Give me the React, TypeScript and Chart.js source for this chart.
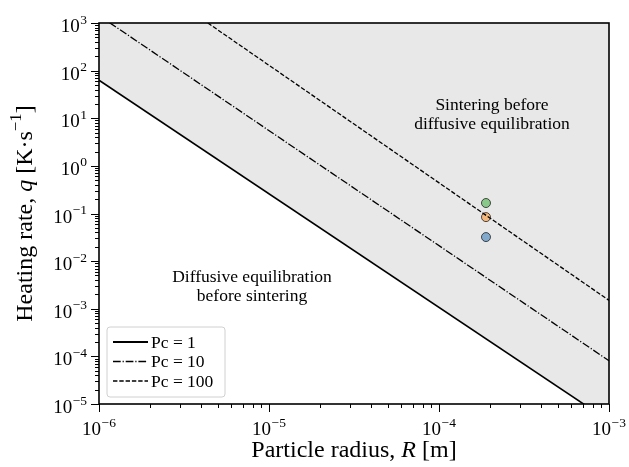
import React, { useEffect, useRef } from 'react';
import { Chart, registerables } from 'chart.js';
Chart.register(...registerables);

// ---- data ----
const RADIUS_ENDS = [1e-6, 1e-3];
const PC1_Q = [63, 4.4e-6];
const PC10_Q = [1435, 8.1e-5];
const PC100_Q = [3.8e4, 1.5e-3];
const POINT_R = [1.89e-4, 1.89e-4, 1.89e-4];
const POINT_Q = [0.166, 0.084, 0.032];
const POINT_COLORS = ['#88c888', '#f4b77c', '#80a9cc'];
const X_DECADES = [-6, -5, -4, -3];
const Y_DECADES = [-5, -4, -3, -2, -1, 0, 1, 2, 3];
const LEGEND_LABELS = ['Pc = 1', 'Pc = 10', 'Pc = 100'];
const X_TITLE = ['Particle radius, ', 'R', ' [m]'];
const Y_TITLE = ['Heating rate, ', 'q', ' [K·s', '−1', ']'];
const ANNOT_UPPER = ['Sintering before', 'diffusive equilibration'];
const ANNOT_LOWER = ['Diffusive equilibration', 'before sintering'];

const FONT = '"Liberation Serif", "DejaVu Serif", serif';
const DASHDOT = [7.7, 1.9, 1.2, 1.9];
const DASHED = [4.4, 1.9];

function drawPow(ctx: CanvasRenderingContext2D, exp: number, x: number, y: number, align: 'center' | 'right') {
  const base = '10';
  const sup = exp < 0 ? '−' + Math.abs(exp) : String(exp);
  ctx.font = `19px ${FONT}`;
  const wb = ctx.measureText(base).width;
  ctx.font = `13.5px ${FONT}`;
  const ws = ctx.measureText(sup).width;
  const total = wb + ws + 0.5;
  let x0 = align === 'center' ? x - total / 2 : x - total;
  ctx.textBaseline = 'alphabetic';
  ctx.textAlign = 'left';
  ctx.font = `19px ${FONT}`;
  ctx.fillText(base, x0, y + 8);
  ctx.font = `13.5px ${FONT}`;
  ctx.fillText(sup, x0 + wb + 0.5, y - 0.5);
}

function drawMixed(ctx: CanvasRenderingContext2D, parts: { t: string; italic?: boolean; sup?: boolean }[], size: number, cx: number, cy: number) {
  const widths: number[] = [];
  let total = 0;
  for (const p of parts) {
    const s = p.sup ? size * 0.7 : size;
    ctx.font = `${p.italic ? 'italic ' : ''}${s}px ${FONT}`;
    const w = ctx.measureText(p.t).width;
    widths.push(w);
    total += w;
  }
  let x = cx - total / 2;
  ctx.textAlign = 'left';
  ctx.textBaseline = 'middle';
  parts.forEach((p, i) => {
    const s = p.sup ? size * 0.7 : size;
    ctx.font = `${p.italic ? 'italic ' : ''}${s}px ${FONT}`;
    ctx.fillText(p.t, x, p.sup ? cy - size * 0.4 : cy);
    x += widths[i];
  });
}

const decorPlugin = {
  id: 'decor',
  afterDraw(chart: any) {
    const { ctx, chartArea: a, scales } = chart;
    const xs = scales.x, ys = scales.y;
    ctx.save();
    ctx.fillStyle = '#000';
    ctx.strokeStyle = '#000';
    // ticks
    ctx.lineWidth = 1;
    for (let e = -6; e <= -3; e++) {
      for (let k = 1; k <= 9; k++) {
        if (e === -3 && k > 1) break;
        const px = Math.round(xs.getPixelForValue(k * Math.pow(10, e))) + 0.5;
        const len = k === 1 ? 8 : 4;
        ctx.beginPath();
        ctx.moveTo(px, a.bottom);
        ctx.lineTo(px, a.bottom + len);
        ctx.stroke();
      }
    }
    for (let e = -5; e <= 3; e++) {
      for (let k = 1; k <= 9; k++) {
        if (e === 3 && k > 1) break;
        const py = Math.round(ys.getPixelForValue(k * Math.pow(10, e))) + 0.5;
        const len = k === 1 ? 8 : 4;
        ctx.beginPath();
        ctx.moveTo(a.left, py);
        ctx.lineTo(a.left - len, py);
        ctx.stroke();
      }
    }
    // frame
    ctx.lineWidth = 1.6;
    ctx.strokeRect(a.left, a.top, a.right - a.left, a.bottom - a.top);
    // tick labels
    X_DECADES.forEach((e) => drawPow(ctx, e, xs.getPixelForValue(Math.pow(10, e)), a.bottom + 23, 'center'));
    Y_DECADES.forEach((e) => drawPow(ctx, e, a.left - 12, ys.getPixelForValue(Math.pow(10, e)) + 1, 'right'));
    // axis titles
    drawMixed(ctx, [{ t: X_TITLE[0] }, { t: X_TITLE[1], italic: true }, { t: X_TITLE[2] }], 24, (a.left + a.right) / 2, 451);
    ctx.save();
    ctx.translate(26, (a.top + a.bottom) / 2);
    ctx.rotate(-Math.PI / 2);
    drawMixed(ctx, [{ t: Y_TITLE[0] }, { t: Y_TITLE[1], italic: true }, { t: Y_TITLE[2] }, { t: Y_TITLE[3], sup: true }, { t: Y_TITLE[4] }], 24, 0, 0);
    ctx.restore();
    // annotations
    ctx.font = `17.5px ${FONT}`;
    ctx.textAlign = 'center';
    ctx.textBaseline = 'middle';
    ctx.fillText(ANNOT_UPPER[0], 492, 105);
    ctx.fillText(ANNOT_UPPER[1], 492, 124);
    ctx.fillText(ANNOT_LOWER[0], 252, 277);
    ctx.fillText(ANNOT_LOWER[1], 252, 296);
    // legend
    const lx = 107, ly = 327, lw = 118, lh = 70;
    ctx.beginPath();
    const r = 3;
    ctx.moveTo(lx + r, ly);
    ctx.arcTo(lx + lw, ly, lx + lw, ly + lh, r);
    ctx.arcTo(lx + lw, ly + lh, lx, ly + lh, r);
    ctx.arcTo(lx, ly + lh, lx, ly, r);
    ctx.arcTo(lx, ly, lx + lw, ly, r);
    ctx.closePath();
    ctx.fillStyle = 'rgba(255,255,255,0.85)';
    ctx.fill();
    ctx.strokeStyle = '#d0d0d0';
    ctx.lineWidth = 1;
    ctx.stroke();
    const dashes = [[], DASHDOT, DASHED];
    const widthsL = [1.8, 1.3, 1.3];
    LEGEND_LABELS.forEach((lab, i) => {
      const y = ly + 15 + i * 19.5;
      ctx.strokeStyle = '#000';
      ctx.lineWidth = widthsL[i];
      ctx.setLineDash(dashes[i]);
      ctx.beginPath();
      ctx.moveTo(lx + 6, y);
      ctx.lineTo(lx + 41, y);
      ctx.stroke();
      ctx.setLineDash([]);
      ctx.fillStyle = '#000';
      ctx.font = `17.5px ${FONT}`;
      ctx.textAlign = 'left';
      ctx.textBaseline = 'middle';
      ctx.fillText(lab, lx + 44, y + 1);
    });
    ctx.restore();
  },
};

export default function App() {
  const ref = useRef<HTMLCanvasElement | null>(null);
  useEffect(() => {
    if (!ref.current) return;
    const mk = (q: number[]) => RADIUS_ENDS.map((x, i) => ({ x, y: q[i] }));
    const chart = new Chart(ref.current, {
      type: 'line',
      data: {
        datasets: [
          {
            label: LEGEND_LABELS[0],
            data: mk(PC1_Q),
            borderColor: '#000',
            borderWidth: 1.6,
            pointRadius: 0,
            fill: 'end',
            backgroundColor: '#e8e8e8',
          },
          {
            label: LEGEND_LABELS[1],
            data: mk(PC10_Q),
            borderColor: '#000',
            borderWidth: 1.3,
            borderDash: DASHDOT,
            pointRadius: 0,
            fill: false,
          },
          {
            label: LEGEND_LABELS[2],
            data: mk(PC100_Q),
            borderColor: '#000',
            borderWidth: 1.3,
            borderDash: DASHED,
            pointRadius: 0,
            fill: false,
          },
          {
            label: 'points',
            data: POINT_R.map((x, i) => ({ x, y: POINT_Q[i] })),
            showLine: false,
            pointRadius: 4.5,
            pointBackgroundColor: POINT_COLORS,
            pointBorderColor: '#222',
            pointBorderWidth: 0.8,
            fill: false,
          },
        ],
      },
      options: {
        animation: false,
        responsive: false,
        events: [],
        layout: { padding: { left: 99, right: 20, top: 23, bottom: 63 } },
        scales: {
          x: { type: 'logarithmic', min: 1e-6, max: 1e-3, display: false },
          y: { type: 'logarithmic', min: 1e-5, max: 1e3, display: false },
        },
        plugins: {
          legend: { display: false },
          tooltip: { enabled: false },
          filler: { drawTime: 'beforeDatasetsDraw' },
        } as any,
      },
      plugins: [decorPlugin],
    } as any);
    return () => chart.destroy();
  }, []);
  return (
    <div style={{ position: 'fixed', left: 0, top: 0, width: 629, height: 467, background: '#fff' }}>
      <canvas ref={ref} width={629} height={467} style={{ display: 'block' }} />
    </div>
  );
}
